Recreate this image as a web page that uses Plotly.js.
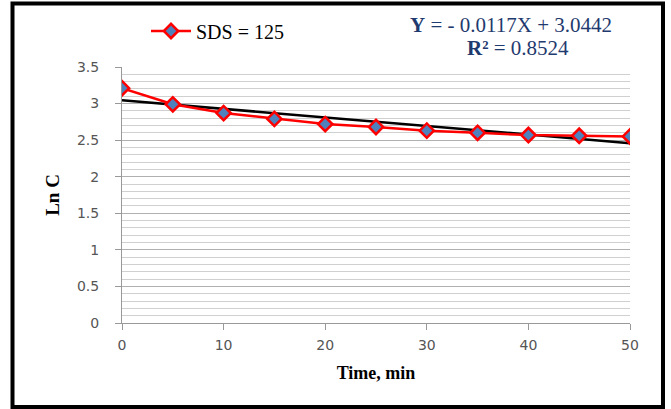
<!DOCTYPE html>
<html>
<head>
<meta charset="utf-8">
<script src="https://cdn.plot.ly/plotly-3.0.1.min.js"></script>
<style>html,body{margin:0;padding:0;background:#fff;}#chart{width:671px;height:409px;}
.legendtext{font-family:'Liberation Serif',serif !important;}</style>
</head>
<body>
<div id="chart"></div>
<script>
var timeMin = [0, 5, 10, 15, 20, 25, 30, 35, 40, 45, 50];
var lnC = [3.21, 2.99, 2.87, 2.79, 2.72, 2.68, 2.63, 2.60, 2.57, 2.56, 2.55];
var trendX = [0, 50];
var trendY = [3.0442, 2.4592];
var seriesName = 'SDS = 125';
var eqLine1 = '<b>Y</b> = - 0.0117X + 3.0442';
var eqLine2 = '<b>R²</b> = 0.8524';
var xTicks = [0, 10, 20, 30, 40, 50];
var yTicks = [0, 0.5, 1, 1.5, 2, 2.5, 3, 3.5];

var SERIF = 'Times New Roman';
var SANS = 'DejaVu Sans';
var L = 122, R = 41, T = 67, B = 86, W = 671, H = 409;
var pw = W - L - R, ph = H - T - B;
function px(x) { return (x - L) / pw; }
function py(y) { return (H - B - y) / ph; }

var traces = [
  {
    x: trendX, y: trendY, mode: 'lines', showlegend: false,
    line: {color: '#000000', width: 2.5}, hoverinfo: 'skip'
  },
  {
    x: timeMin, y: lnC, mode: 'lines+markers', name: seriesName,
    line: {color: '#ff0000', width: 2.5},
    marker: {symbol: 'diamond', size: 11, color: '#4f81bd', line: {color: '#ff0000', width: 2.5}}
  }
];

var layout = {
  width: W, height: H,
  font: {family: SERIF, size: 20, color: '#000000'},
  margin: {l: L, r: R, t: T, b: B, pad: 0},
  paper_bgcolor: '#ffffff', plot_bgcolor: '#ffffff',
  showlegend: true,
  legend: {
    x: px(146), y: py(31), xanchor: 'left', yanchor: 'middle',
    font: {family: SERIF, size: 20, color: '#000000'},
    bgcolor: 'rgba(0,0,0,0)', itemwidth: 40, tracegroupgap: 0
  },
  xaxis: {
    range: [0, 50], tickvals: xTicks, ticks: 'outside', ticklen: 6, tickcolor: '#999999',
    ticklabelstandoff: 3,
    showgrid: false, zeroline: false, showline: true, linecolor: '#999999', linewidth: 1,
    tickfont: {family: SANS, size: 14, color: '#555555'},
    title: {text: '<b>Time, min</b>', font: {family: SERIF, size: 18, color: '#000000'}, standoff: 14},
    fixedrange: true
  },
  yaxis: {
    range: [0, 3.5], tickvals: yTicks, ticks: 'outside', ticklen: 6, tickcolor: '#999999',
    ticklabelstandoff: 13,
    showgrid: true, gridcolor: '#b0b0b0', gridwidth: 1,
    minor: {dtick: 0.1, showgrid: true, gridcolor: '#d0d0d0', gridwidth: 1},
    zeroline: false, showline: true, linecolor: '#999999', linewidth: 1,
    tickfont: {family: SANS, size: 14, color: '#555555'},
    title: {text: '<b>Ln C</b>', font: {family: SERIF, size: 19, color: '#000000'}, standoff: 12},
    fixedrange: true
  },
  annotations: [
    {xref: 'paper', yref: 'paper', x: px(511), y: py(25), text: eqLine1, showarrow: false,
     xanchor: 'center', yanchor: 'middle',
     font: {family: SERIF, size: 21, color: '#1f3a6e'}},
    {xref: 'paper', yref: 'paper', x: px(518), y: py(48), text: eqLine2, showarrow: false,
     xanchor: 'center', yanchor: 'middle',
     font: {family: SERIF, size: 21, color: '#1f3a6e'}}
  ],
  shapes: [
    {type: 'rect', xref: 'paper', yref: 'paper', x0: px(12.5), x1: px(663), y0: py(407), y1: py(3.5),
     line: {color: '#000000', width: 4}, fillcolor: 'rgba(0,0,0,0)', layer: 'above'}
  ]
};

Plotly.newPlot('chart', traces, layout, {displayModeBar: false, staticPlot: true});
</script>
</body>
</html>
